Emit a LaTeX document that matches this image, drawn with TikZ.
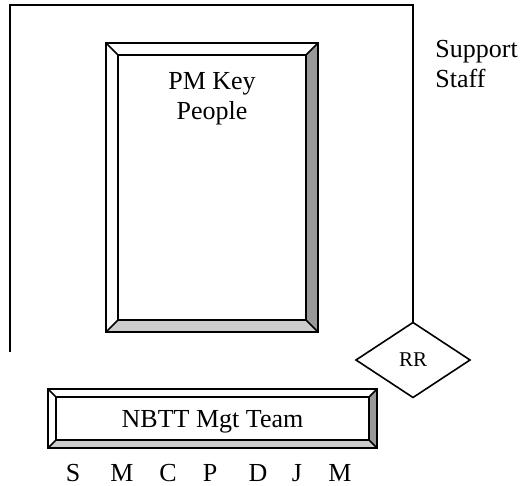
\documentclass[tikz,border=0pt]{standalone}
\usepackage{fontspec}
\setmainfont{Liberation Serif}
\usetikzlibrary{calc,positioning,shapes.geometric}

\definecolor{bevdark}{gray}{0.6}
\definecolor{bevlight}{gray}{0.8}

% raised frame round a box node: #1 node, #2 bevel depth
\newcommand{\bevel}[2]{%
  \fill[bevlight] (#1.south west) -- (#1.south east) -- ($(#1.south east)+(-#2,#2)$) -- ($(#1.south west)+(#2,#2)$) -- cycle;
  \fill[bevdark] (#1.south east) -- (#1.north east) -- ($(#1.north east)+(-#2,-#2)$) -- ($(#1.south east)+(-#2,#2)$) -- cycle;
  \draw[frame] (#1.south west) rectangle (#1.north east);
  \draw[frame] ($(#1.south west)+(#2,#2)$) rectangle ($(#1.north east)+(-#2,-#2)$);
  \draw[frame] (#1.south west) -- ++(#2,#2) (#1.south east) -- ++(-#2,#2)
    (#1.north west) -- ++(#2,-#2) (#1.north east) -- ++(-#2,-#2);
}

\begin{document}
\begin{tikzpicture}[line join=miter]

  \tikzstyle{frame}=[line width=0.8pt];
  \tikzstyle{box}=[rectangle, inner sep=0pt, outer sep=0pt];
  \tikzstyle{lbl}=[font=\fontsize{13}{15}\selectfont, inner sep=0pt];

  \useasboundingbox (0,0) rectangle (261pt,242.5pt);

  %% key people
  \node [box,minimum width=106pt,minimum height=144.5pt] (pm) at (106pt,148.75pt) {};
  \bevel{pm}{6pt}
  \node [lbl,align=center,below=14.6pt of pm.north] (pmtxt) {PM Key\\People};

  %% support staff
  \node [diamond,draw,frame,minimum width=57pt,minimum height=37.5pt,inner sep=0pt,
    outer sep=0pt,font=\fontsize{10.5}{12}\selectfont] (rr) at (206.5pt,62.5pt) {RR};
  \coordinate (lb) at (5pt,66.5pt);
  \coordinate (tr) at (206.5pt,240pt);
  \draw[frame] (lb) |- (tr) -- (rr.north);
  \node [lbl,align=left,anchor=north west] (staff) at (217.5pt,222.4pt) {Support\\Staff};

  %% management team
  \node [box,minimum width=164.5pt,minimum height=29.5pt] (nbtt) at (106.25pt,33.25pt) {};
  \bevel{nbtt}{4pt}
  \node [lbl,anchor=base,yshift=-4.7pt] (nbtttxt) at (nbtt.center) {NBTT Mgt Team};

  \foreach \ltr/\xx [count=\i] in {S/36.5,M/61,C/84,P/105,D/129,J/148.5,M/170}
    \node [lbl,anchor=base] (mem\i) at (\xx pt,2pt) {\ltr};

\end{tikzpicture}
\end{document}
